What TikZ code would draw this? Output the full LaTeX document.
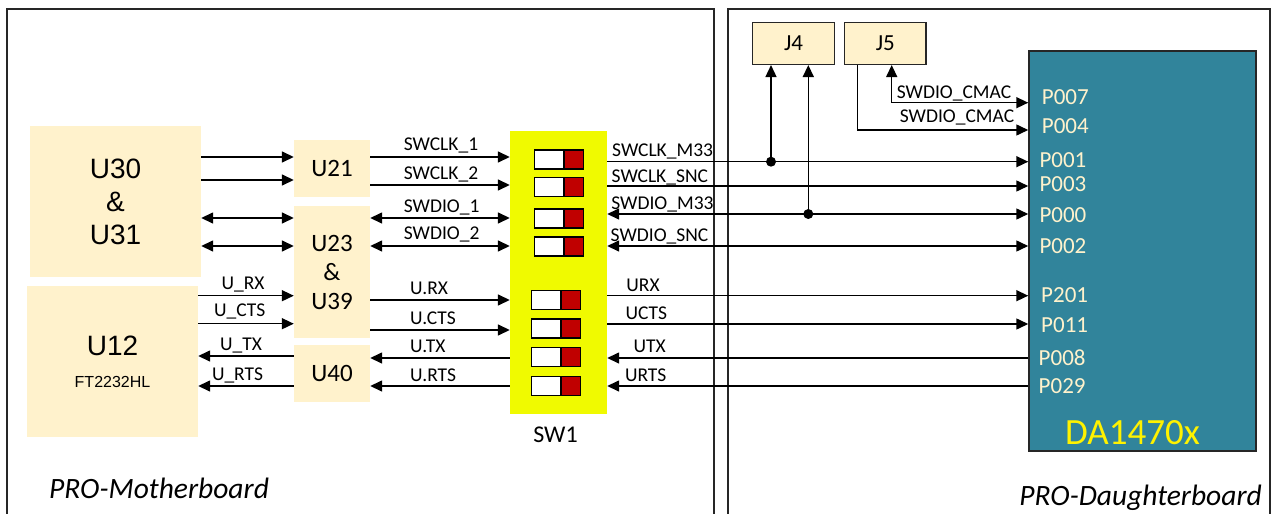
\documentclass[tikz,border=0pt]{standalone}
\usepackage{fontspec}
\setmainfont{Carlito}
\newfontfamily\arialf{Liberation Sans}
\usetikzlibrary{arrows.meta}
\definecolor{chip}{HTML}{FFF2CC}
\definecolor{swy}{HTML}{F0FA00}
\definecolor{dateal}{HTML}{31849B}
\definecolor{swred}{HTML}{C00000}
\definecolor{framec}{HTML}{262626}
\begin{document}
\begin{tikzpicture}[x=1pt,y=-1pt,
  chipbox/.style={fill=chip, draw=none, inner sep=0pt},
  sig/.style={-{Triangle[length=12pt,width=11pt]}, line width=1.5pt},
  bsig/.style={{Triangle[length=12pt,width=11pt]}-{Triangle[length=12pt,width=11pt]}, line width=1.5pt},
  lbl/.style={font=\fontsize{19.5pt}{22pt}\selectfont, inner sep=0pt, anchor=base},
  lblw/.style={lbl, anchor=base west},
  lble/.style={lbl, anchor=base east},
  pin/.style={font=\fontsize{23pt}{26pt}\selectfont, text=chip, inner sep=0pt, anchor=base west},
  swbox/.style={line width=1.5pt, draw=black}]
\useasboundingbox (0,0) rectangle (1280,514);
% frames
\draw[framec, line width=1.5pt] (7,514) -- (7,9) -- (714,9) -- (714,514);
\draw[framec, line width=1.5pt] (728,514) -- (728,9) -- (1270,9) -- (1270,514);
% blocks
\node[chipbox, minimum width=171pt, minimum height=151pt, align=center,
      font=\arialf\fontsize{28pt}{33pt}\selectfont] (U30) at (115.5,201.5) {U30\\\&\\U31};
\node[chipbox, minimum width=171pt, minimum height=151pt] (U12) at (112.5,361.5) {};
\node[font=\arialf\fontsize{28pt}{32pt}\selectfont, inner sep=0pt] (U12t) at (112.5,345.7) {U12};
\node[font=\arialf\fontsize{16pt}{18pt}\selectfont, inner sep=0pt] (U12s) at (112.5,381.7) {FT2232HL};
\node[chipbox, minimum width=76pt, minimum height=57pt, font=\fontsize{25pt}{29pt}\selectfont] (U21) at (332,168.5) {U21};
\node[chipbox, minimum width=76pt, minimum height=132pt, align=center, font=\fontsize{25pt}{29pt}\selectfont] (U23) at (332,272) {U23\\\&\\U39};
\node[chipbox, minimum width=76pt, minimum height=57pt, font=\fontsize{25pt}{29pt}\selectfont] (U40) at (332,373.5) {U40};
\node[fill=swy, draw=none, minimum width=97pt, minimum height=283pt, inner sep=0pt] (SW1) at (558.5,272.5) {};
\node[font=\fontsize{24pt}{28pt}\selectfont, inner sep=0pt] (SW1t) at (555.5,435) {SW1};
\node[chipbox, draw=framec, line width=1.5pt, minimum width=81.6pt, minimum height=41.6pt, font=\fontsize{23pt}{26pt}\selectfont] (J4) at (793.5,43.5) {J4};
\node[chipbox, draw=framec, line width=1.5pt, minimum width=81.3pt, minimum height=41.6pt, font=\fontsize{23pt}{26pt}\selectfont] (J5) at (885.3,43.5) {J5};
\node[fill=dateal, draw=framec, line width=1.5pt, minimum width=227pt, minimum height=400pt, inner sep=0pt] (DA) at (1142.5,251) {};
\node[font=\fontsize{37pt}{40pt}\selectfont, text=yellow, inner sep=0pt] (DAt) at (1132.5,432.7) {DA1470x};
% switches
\foreach \t in {150,177.7,209,237} {
  \draw[swbox, fill=white] (534.3,\t) rectangle (564,\t+19);
  \draw[swbox, fill=swred] (564,\t) rectangle (583.3,\t+19);
}
\foreach \t in {290.7,319,347.7,376.3} {
  \draw[swbox, fill=white] (531.7,\t) rectangle (561,\t+19);
  \draw[swbox, fill=swred] (561,\t) rectangle (580.7,\t+19);
}
% pins
\node[pin] at (1041.7,104.4) {P007};
\node[pin] at (1041.7,133.4) {P004};
\node[pin] at (1039.3,167.4) {P001};
\node[pin] at (1039.3,191.4) {P003};
\node[pin] at (1039.3,222.4) {P000};
\node[pin] at (1039.3,253.4) {P002};
\node[pin] at (1041,302.4) {P201};
\node[pin] at (1041,332.4) {P011};
\node[pin] at (1038.5,365.7) {P008};
\node[pin] at (1038.5,393.4) {P029};
% left connectors
\draw[sig] (U30.east |- 0,157) -- (U21.west |- 0,157);
\draw[sig] (U30.east |- 0,180) -- (U21.west |- 0,180);
\draw[bsig] (U30.east |- 0,218) -- (U23.west |- 0,218);
\draw[bsig] (U30.east |- 0,246) -- (U23.west |- 0,246);
\draw[sig] (U12.east |- 0,295.7) -- (U23.west |- 0,295.7);
\draw[sig] (U12.east |- 0,323.7) -- (U23.west |- 0,323.7);
\draw[sig] (U40.west |- 0,356) -- (U12.east |- 0,356);
\draw[sig] (U40.west |- 0,386) -- (U12.east |- 0,386);
\node[lbl] at (243,289) {U\_RX};
\node[lbl] at (239.7,316) {U\_CTS};
\node[lbl] at (241,350) {U\_TX};
\node[lbl] at (237.5,380) {U\_RTS};
% middle connectors
\draw[sig] (U21.east |- 0,157) -- (SW1.west |- 0,157);
\draw[sig] (U21.east |- 0,185) -- (SW1.west |- 0,185);
\draw[bsig] (U23.east |- 0,218) -- (SW1.west |- 0,218);
\draw[bsig] (U23.east |- 0,246) -- (SW1.west |- 0,246);
\draw[sig] (U23.east |- 0,300) -- (SW1.west |- 0,300);
\draw[sig] (U23.east |- 0,330) -- (SW1.west |- 0,330);
\draw[sig] (SW1.west |- 0,358) -- (U40.east |- 0,358);
\draw[sig] (SW1.west |- 0,386) -- (U40.east |- 0,386);
\node[lbl] at (441,150) {SWCLK\_1};
\node[lbl] at (441,179) {SWCLK\_2};
\node[lbl] at (441.7,212) {SWDIO\_1};
\node[lbl] at (441.7,239) {SWDIO\_2};
\node[lblw] at (410,294) {U.RX};
\node[lblw] at (410,324) {U.CTS};
\node[lblw] at (410,352) {U.TX};
\node[lblw] at (410,381) {U.RTS};
% right connectors
\coordinate (d1) at (771,161.7);
\coordinate (d2) at (808.3,214);
\draw[sig] (SW1.east |- 0,161.7) -- (DA.west |- 0,161.7);
\draw[sig] (SW1.east |- 0,186) -- (DA.west |- 0,186);
\draw[bsig] (SW1.east |- 0,214) -- (DA.west |- 0,214);
\draw[bsig] (SW1.east |- 0,246) -- (DA.west |- 0,246);
\draw[sig] (SW1.east |- 0,295.7) -- (DA.west |- 0,295.7);
\draw[sig] (SW1.east |- 0,324) -- (DA.west |- 0,324);
\draw[sig] (DA.west |- 0,358) -- (SW1.east |- 0,358);
\draw[sig] (DA.west |- 0,386) -- (SW1.east |- 0,386);
\draw[sig] (d1) -- (d1 |- J4.south);
\draw[sig] (d2) -- (d2 |- J4.south);
\fill (d1) circle (5pt);
\fill (d2) circle (5pt);
\draw[sig] (857.7,0 |- J5.south) -- (857.7,130) -- (DA.west |- 0,130);
\draw[bsig] (891.7,0 |- J5.south) -- (891.7,102.7) -- (DA.west |- 0,102.7);
\node[lbl] at (954,98) {SWDIO\_CMAC};
\node[lbl] at (957,122.7) {SWDIO\_CMAC};
\node[lblw] at (612,156) {SWCLK\_M33};
\node[lblw] at (611.5,182) {SWCLK\_SNC};
\node[lblw] at (611.2,209) {SWDIO\_M33};
\node[lblw] at (610.5,241) {SWDIO\_SNC};
\node[lblw] at (626.2,291) {URX};
\node[lblw] at (625.5,319) {UCTS};
\node[lble] at (666,352) {UTX};
\node[lble] at (666.5,381) {URTS};
% board names
\node[font=\itshape\fontsize{29.5pt}{33pt}\selectfont, inner sep=0pt, anchor=base west] (mb) at (49,498) {PRO-Motherboard};
\node[font=\itshape\fontsize{29.5pt}{33pt}\selectfont, inner sep=0pt, anchor=base east] (db) at (1262,505) {PRO-Daughterboard};
\end{tikzpicture}
\end{document}
